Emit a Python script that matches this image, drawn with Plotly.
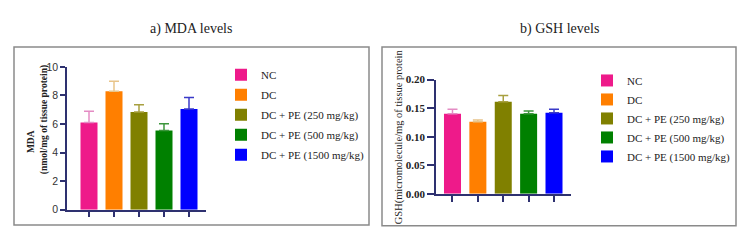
import plotly.graph_objects as go

groups = ["NC", "DC", "DC + PE (250 mg/kg)", "DC + PE (500 mg/kg)", "DC + PE (1500 mg/kg)"]
mda_mean = [6.1, 8.3, 6.85, 5.55, 7.05]
mda_err = [0.8, 0.7, 0.5, 0.47, 0.8]
gsh_mean = [0.140, 0.126, 0.161, 0.140, 0.142]
gsh_err = [0.008, 0.003, 0.011, 0.005, 0.006]
mda_ticks = [0, 2, 4, 6, 8, 10]
mda_ticklabels = ["0", "2", "4", "6", "8", "10"]
gsh_ticks = [0.0, 0.05, 0.10, 0.15, 0.20]
gsh_ticklabels = ["0.00", "0.05", "0.10", "0.15", "0.20"]

bar_colors = ["#EE1A8A", "#FF7F00", "#808000", "#008000", "#0000FF"]
err_colors = ["#E48CC4", "#E8C48A", "#A8A040", "#3C963C", "#3A3AC8"]

W, H = 750, 249
def px(x): return x / W
def py(y): return (H - y) / H

AX = "#2E3170"
SERIF = "Liberation Serif, Times New Roman, serif"

fig = go.Figure()
for i, g in enumerate(groups):
    fig.add_trace(go.Bar(
        x=[i], y=[mda_mean[i]], name=g, marker_color=bar_colors[i], width=0.68,
        marker_line_width=0,
        error_y=dict(type="data", symmetric=False, array=[mda_err[i]], arrayminus=[0],
                     color=err_colors[i], thickness=1.5, width=5),
        xaxis="x", yaxis="y", legend="legend", legendgroup="a%d" % i))
for i, g in enumerate(groups):
    fig.add_trace(go.Bar(
        x=[i], y=[gsh_mean[i]], name=g, marker_color=bar_colors[i], width=0.67,
        marker_line_width=0,
        error_y=dict(type="data", symmetric=False, array=[gsh_err[i]], arrayminus=[0],
                     color=err_colors[i], thickness=1.5, width=5),
        xaxis="x2", yaxis="y2", legend="legend2"))

axis_common = dict(showgrid=False, zeroline=False, showline=True, linecolor=AX, linewidth=1.5,
                   ticks="outside", tickcolor=AX, tickwidth=1.5)

def ann(text, x, y, size, angle=0, bold=False):
    f = dict(family=SERIF, size=size, color="#222")
    if bold:
        f["weight"] = "bold"
    return dict(text=text, x=px(x), y=py(y), xref="paper", yref="paper", textangle=angle,
                xanchor="center", yanchor="middle", showarrow=False, font=f)

fig.update_layout(
    width=W, height=H, margin=dict(l=0, r=0, t=0, b=0),
    paper_bgcolor="white", plot_bgcolor="white",
    showlegend=True,
    xaxis=dict(domain=[px(67), px(206)], range=[-0.88, 4.68], tickvals=list(range(5)),
               showticklabels=False, ticklen=6, **axis_common),
    yaxis=dict(domain=[py(214), py(64)], range=[0, 10], tickmode="array", tickvals=mda_ticks,
               ticktext=mda_ticklabels, ticklen=5, showticklabels=True,
               tickfont=dict(family="Liberation Sans, Arial, sans-serif", size=10.5, color="#333"),
               **axis_common),
    xaxis2=dict(domain=[px(436), px(571)], range=[-0.65, 4.67], tickvals=list(range(5)),
                showticklabels=False, ticklen=6, anchor="y2", **axis_common),
    yaxis2=dict(domain=[py(197.3), py(77.3)], range=[0, 0.2], tickvals=gsh_ticks,
                ticktext=gsh_ticklabels, ticklen=7, anchor="x2",
                tickfont=dict(family=SERIF, size=11, color="#222", weight="bold"),
                **axis_common),
    legend=dict(x=px(221), y=py(57), xanchor="left", yanchor="top",
                font=dict(family=SERIF, size=11, color="#222"),
                tracegroupgap=1, bgcolor="rgba(0,0,0,0)"),
    legend2=dict(x=px(587), y=py(63), xanchor="left", yanchor="top",
                 font=dict(family=SERIF, size=11, color="#222"),
                 bgcolor="rgba(0,0,0,0)"),
    shapes=[
        dict(type="rect", xref="paper", yref="paper", x0=px(14), x1=px(369), y0=py(230), y1=py(43),
             line=dict(color="#8A8A8A", width=1.5)),
        dict(type="rect", xref="paper", yref="paper", x0=px(382), x1=px(736), y0=py(231), y1=py(43),
             line=dict(color="#8A8A8A", width=1.5)),
    ],
    annotations=[
        ann("a) MDA levels", 191, 24, 14),
        ann("b) GSH levels", 559, 24, 14),
        ann("MDA", 31, 143, 9.5, -90, True),
        ann("(nmol/mg of tissue protein)", 44, 120, 9.5, -90, True),
        ann("GSH(micromolecule/mg of tissue protein", 399, 138, 10.5, -90),
    ],
)

fig.write_html("out.html")
